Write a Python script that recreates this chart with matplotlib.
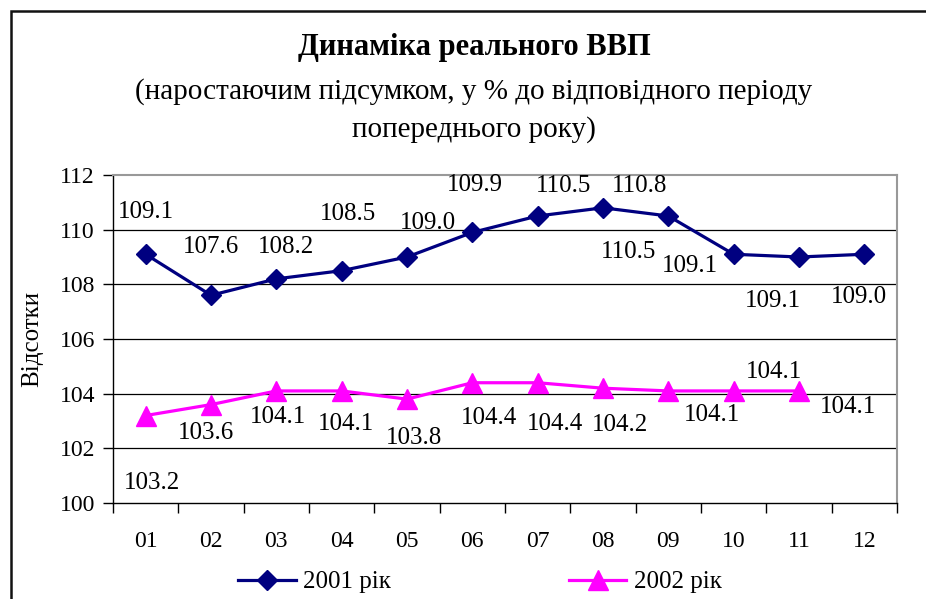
import matplotlib.pyplot as plt

plt.rcParams['font.family'] = ['Liberation Serif', 'DejaVu Serif']

months = ['01', '02', '03', '04', '05', '06', '07', '08', '09', '10', '11', '12']
gdp_2001 = [109.1, 107.6, 108.2, 108.5, 109.0, 109.9, 110.5, 110.8, 110.5, 109.1, 109.0, 109.1]
gdp_2002 = [103.2, 103.6, 104.1, 104.1, 103.8, 104.4, 104.4, 104.2, 104.1, 104.1, 104.1]

# labels as printed on the chart
labels_2001 = ['109.1', '107.6', '108.2', '108.5', '109.0', '109.9', '110.5', '110.8',
               '110.5', '109.1', '109.1', '109.0']
labels_2002 = ['103.2', '103.6', '104.1', '104.1', '103.8', '104.4', '104.4', '104.2',
               '104.1', '104.1', '104.1']

# label offsets from their point, in pixels (x right, y up)
offsets_2001 = [(0, 42), (0, 48), (10, 32), (6, 57), (21, 34), (3, 47), (26, 30), (37, 22),
                (-40, -36), (-44, -12), (-26, -44), (-5, -43)]
offsets_2002 = [(6, -67), (-5, -28), (2, -26), (4, -33), (7, -39), (17, -35), (17, -41),
                (17, -37), (44, -24), (40, 19), (49, -16)]

NAVY = '#000080'
MAGENTA = '#FF00FF'

fig = plt.figure(figsize=(9.26, 5.99), dpi=100)
W, H = 926, 599

# outer chart frame
frame = plt.Rectangle((11 / W, -0.1), 1.2, 1 - 11 / H + 0.1, transform=fig.transFigure,
                      fill=False, edgecolor='#111111', linewidth=1.8)
fig.patches.append(frame)

ax = fig.add_axes([113 / W, (H - 503) / H, (897 - 113) / W, (503 - 175) / H])

x = list(range(len(months)))
ax.plot(x, gdp_2001, color=NAVY, lw=2.3, marker='D', ms=10.5, label='2001 рік', zorder=3)
ax.plot(x[:len(gdp_2002)], gdp_2002, color=MAGENTA, lw=2.3, marker='^', ms=14,
        label='2002 рік', zorder=3)

for i, (txt, off) in enumerate(zip(labels_2001, offsets_2001)):
    ax.annotate(txt, (x[i], gdp_2001[i]), xytext=off, textcoords='offset pixels',
                ha='center', va='center', fontsize=18)
for i, (txt, off) in enumerate(zip(labels_2002, offsets_2002)):
    ax.annotate(txt, (x[i], gdp_2002[i]), xytext=off, textcoords='offset pixels',
                ha='center', va='center', fontsize=18)

ax.set_xlim(-0.5, 11.5)
ax.set_ylim(100, 112)
ax.set_yticks(range(100, 113, 2))
ax.set_xticks(x)
ax.set_xticklabels(months)
ax.set_xticks([i + 0.5 for i in range(-1, 12)], minor=True)
ax.tick_params(axis='x', which='major', length=0, pad=20, labelsize=17)
ax.tick_params(axis='x', which='minor', length=7, width=1, direction='out')
ax.tick_params(axis='y', length=7, width=1, direction='out', pad=6, labelsize=17)

for y in range(102, 112, 2):
    ax.axhline(y, color='black', lw=0.9, zorder=1)
ax.spines['top'].set_color('#999999')
ax.spines['right'].set_color('#999999')
ax.spines['top'].set_linewidth(1.5)
ax.spines['right'].set_linewidth(1.5)
ax.spines['left'].set_linewidth(1)
ax.spines['bottom'].set_linewidth(1)

ax.set_ylabel('Відсотки', fontsize=18, labelpad=12)

cx = 474 / W
fig.text(cx, 1 - 47 / H, 'Динаміка реального ВВП', ha='center', va='center',
         fontsize=22, fontweight='bold')
fig.text(cx, 1 - 92 / H, '(наростаючим підсумком, у % до відповідного періоду',
         ha='center', va='center', fontsize=21)
fig.text(cx, 1 - 130 / H, 'попереднього року)', ha='center', va='center', fontsize=21)

fig.legend(loc='center', bbox_to_anchor=(480 / W, 1 - 582 / H), ncol=2, frameon=False,
           fontsize=18, handlelength=2.3, columnspacing=7.1, handletextpad=0.3)

fig.savefig('out.png', dpi=100)
